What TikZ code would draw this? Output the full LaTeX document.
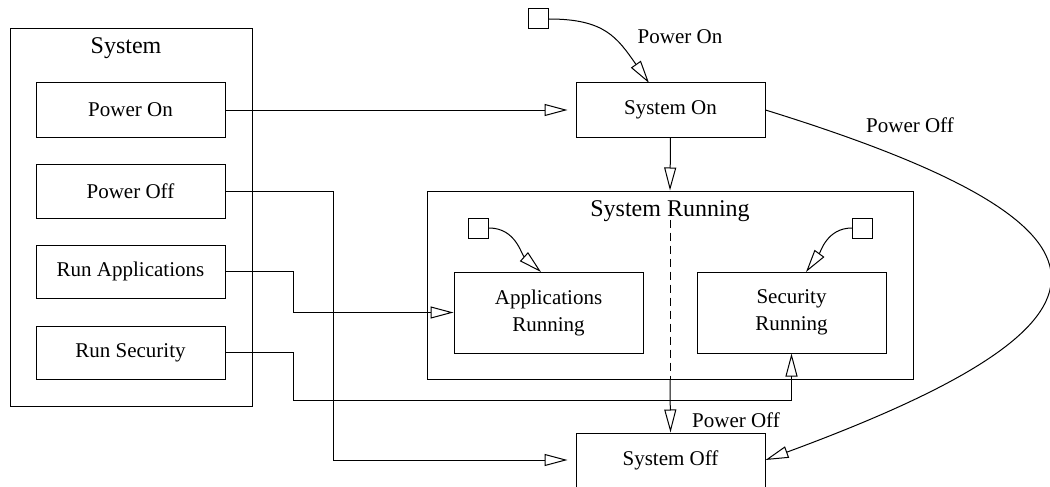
\documentclass[tikz,border=0pt]{standalone}
\usepackage{fontspec}
\setmainfont{Liberation Serif}
\usetikzlibrary{arrows.meta}
\begin{document}
\begin{tikzpicture}[x=1pt,y=-1pt,
  every node/.style={font=\fontsize{21}{27}\selectfont},
  box/.style={draw,line width=1pt,rectangle,inner sep=0pt,align=center},
  smallbox/.style={box,minimum width=189pt,minimum height=54pt},
  initbox/.style={draw,line width=1pt,rectangle,inner sep=0pt,minimum width=20pt,minimum height=20pt},
  conn/.style={line width=1pt},
  arr/.style={conn,-{Triangle[open,length=23pt,width=12pt,line width=1pt]}},
  lbl/.style={inner sep=0pt},
  titlelbl/.style={inner sep=0pt,font=\fontsize{24}{28}\selectfont}]
\useasboundingbox (0,0) rectangle (1050,487);
% left system box
\node[box,minimum width=242pt,minimum height=377pt] (sys) at (131,217.5) {};
\node[titlelbl] (systitle) at (126,48) {System};
\node[smallbox] (pon) at (130.5,110) {Power On};
\node[smallbox] (poff) at (130.5,191) {Power Off};
\node[smallbox,minimum height=53pt] (runapp) at (130.5,271.5) {Run Applications};
\node[smallbox,minimum height=53pt] (runsec) at (130.5,352.5) {Run Security};
% states
\node[smallbox] (son) at (670.5,110) {System On};
\node[box,minimum width=486pt,minimum height=188pt] (srun) at (670,285) {};
\node[titlelbl] (srtitle) at (670,211) {System Running};
\node[smallbox,minimum height=81pt] (apprun) at (548.5,312.5) {Applications\\Running};
\node[smallbox,minimum height=81pt] (secrun) at (791.5,312.5) {Security\\Running};
\node[smallbox] (soff) at (670.5,460) {System Off};
% initial pseudo states
\node[initbox] (i1) at (538.5,19) {};
\node[initbox] (i2) at (478.5,228) {};
\node[initbox] (i3) at (862.5,228) {};
% labels
\node[lbl] (lpon) at (680,37) {Power On};
\node[lbl] (lpoff1) at (910,125) {Power Off};
\node[lbl] (lpoff2) at (736,420) {Power Off};
% connectors
\draw[arr,shorten >=8pt] (pon.east) -- (son.west);
\draw[arr,shorten >=8pt] (poff.east) -- ++(108,0) |- (soff.west);
\draw[arr] (runapp.east) -- ++(68,0) |- (apprun.west);
\draw[arr] (runsec.east) -- ++(68,0) -- ++(0,47.5) -| (secrun.south);
\draw[arr] (son.south) -- (srun.north);
\draw[conn,dash pattern=on 8pt off 5pt] ([yshift=2pt]srtitle.south) -- (srun.south);
\draw[arr] (srun.south) -- (soff.north);
\draw[arr] (son.east) .. controls (1143,227) and (1143,321) .. (soff.east);
\draw[arr] (i1.east) to[out=0,in=125,looseness=1.2] (649,83);
\draw[arr] (i2.east) to[out=0,in=138] (541,272);
\draw[arr] (i3.west) to[out=180,in=54] (806,272);
\end{tikzpicture}
\end{document}
